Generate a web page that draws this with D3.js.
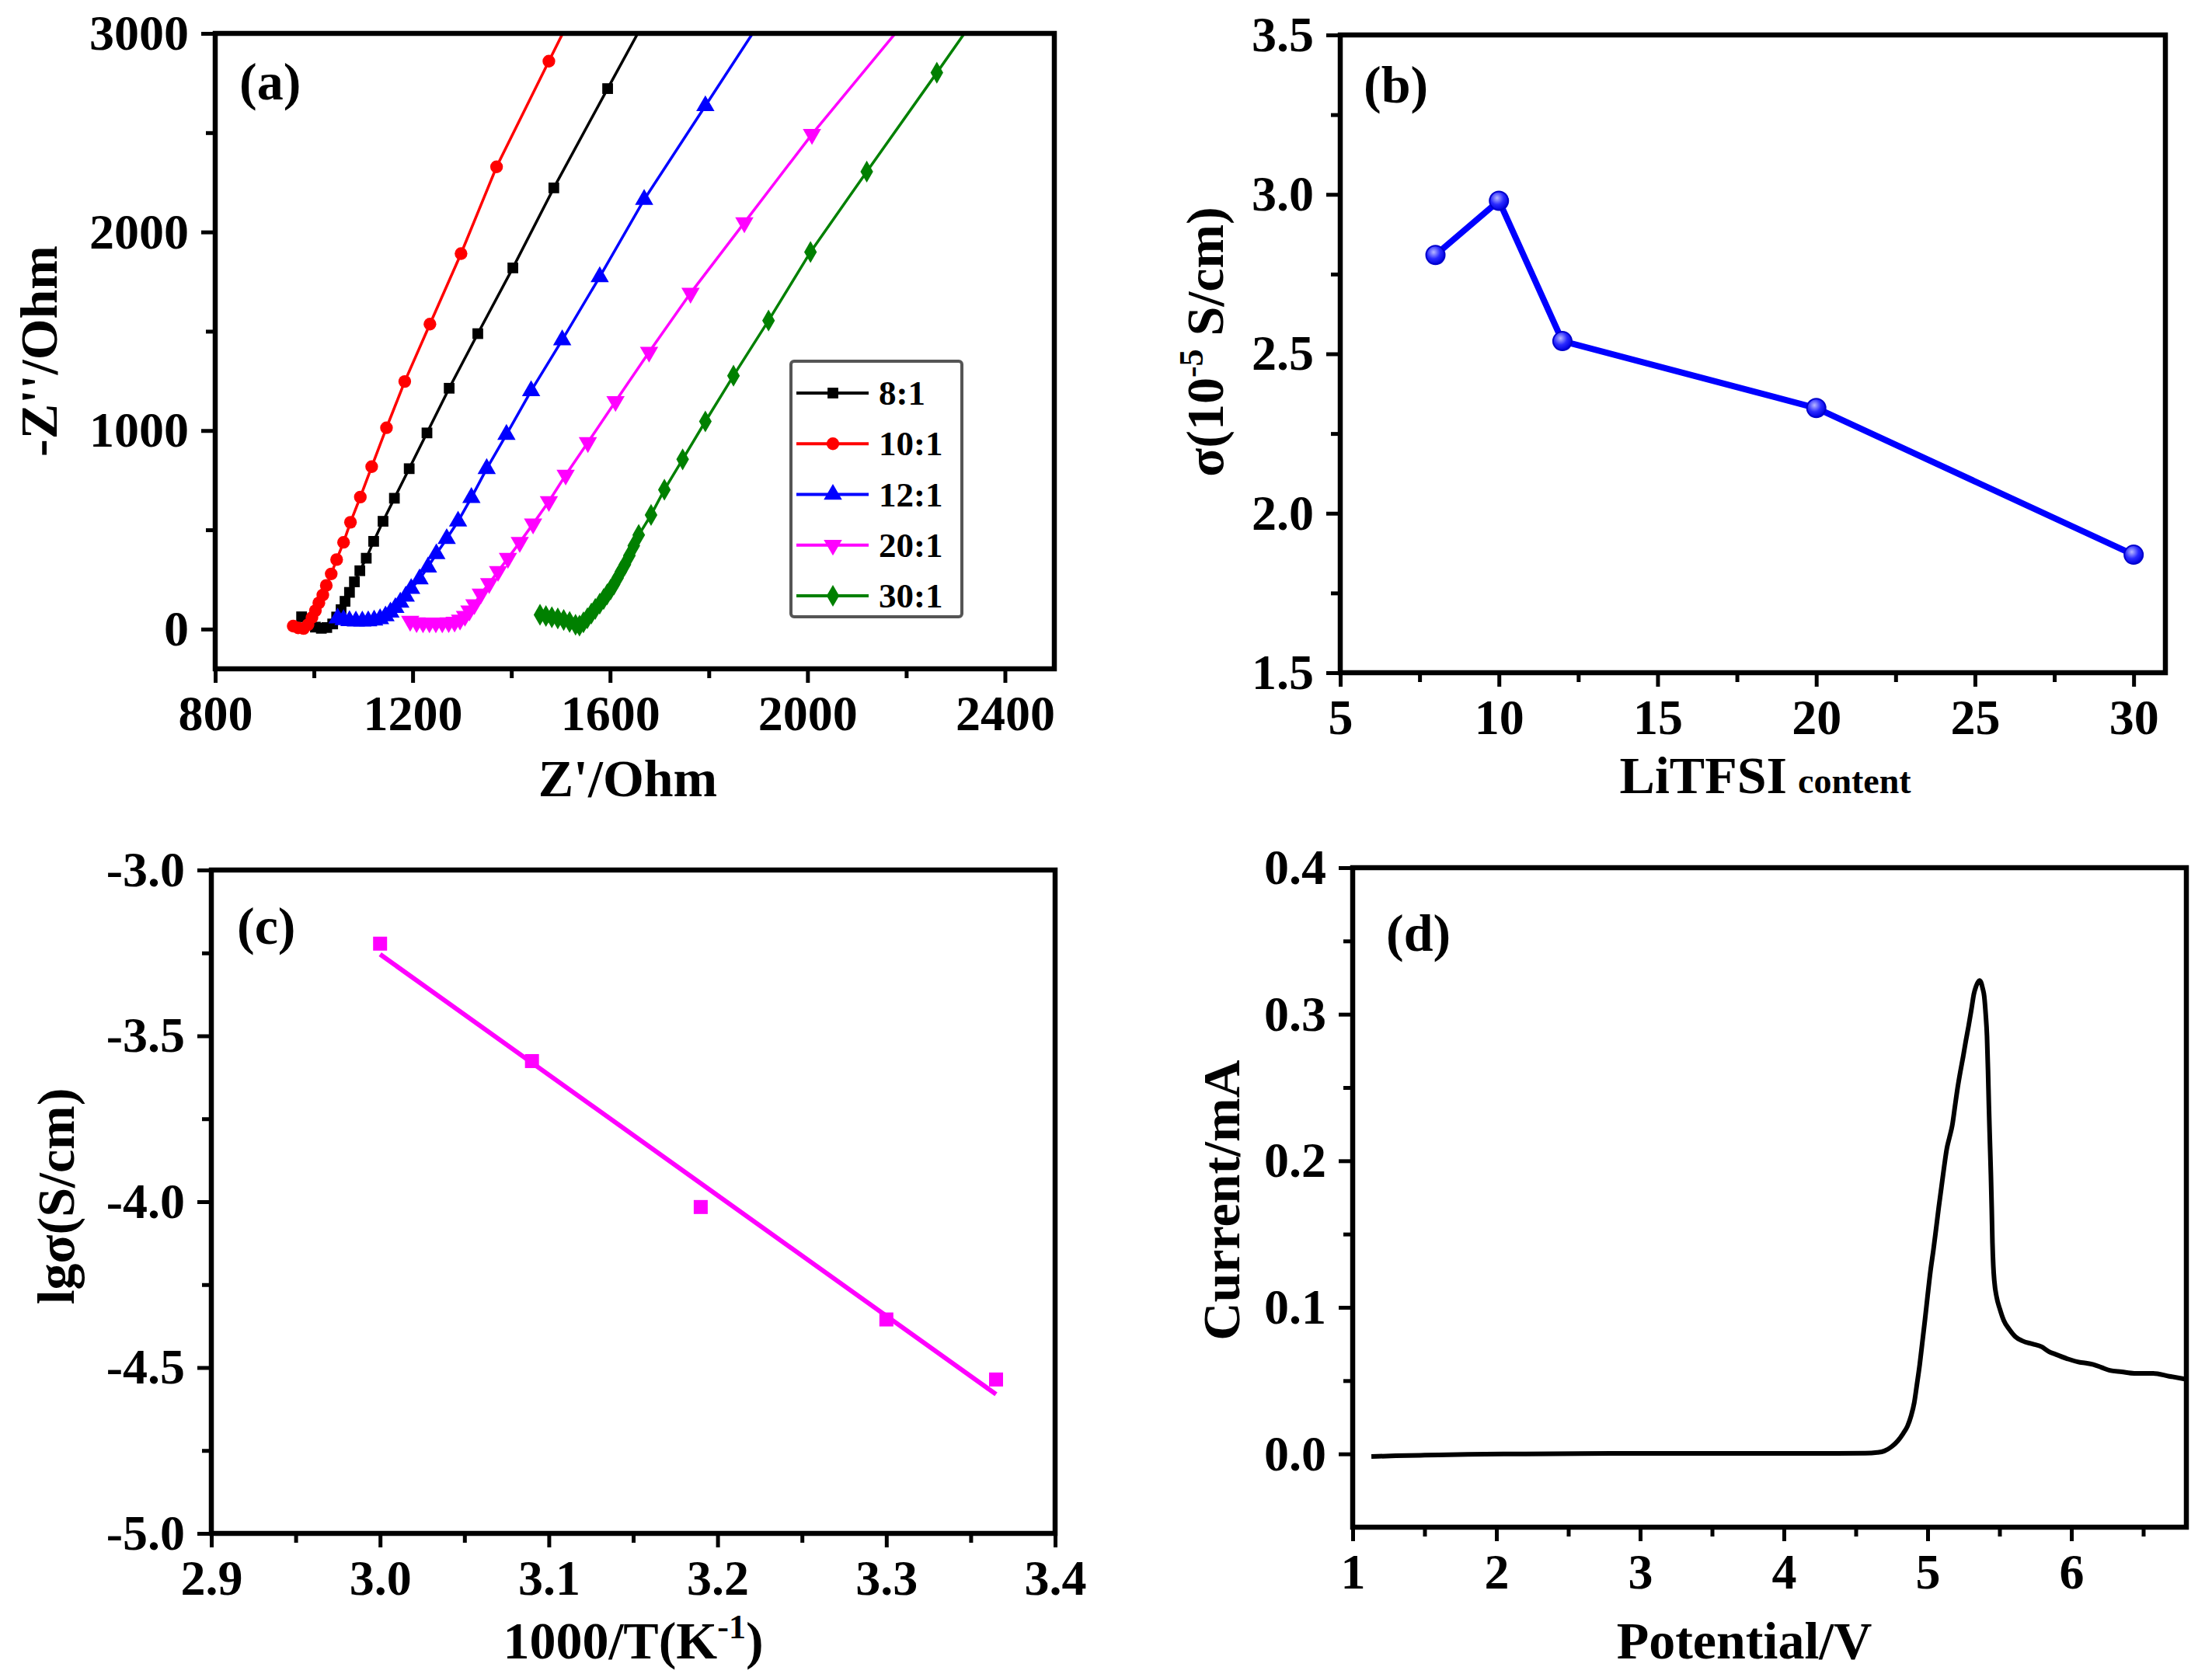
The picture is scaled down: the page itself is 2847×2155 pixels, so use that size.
<!DOCTYPE html>
<html><head><meta charset="utf-8">
<script src="https://cdn.jsdelivr.net/npm/d3@7"></script>
<style>
html,body{margin:0;padding:0;background:#fff;}
svg text{font-family:"Liberation Serif","Times New Roman",serif;font-weight:bold;fill:#000;}
</style></head>
<body><svg id="c" width="2847" height="2155"></svg>
<script>
// ---------- data ----------
// (a) Nyquist plots: [Z', -Z'']
const nyq8  = [[975,62],[990,30],[1003,10],[1015,4],[1026,8],[1038,26],[1046,61],[1055,98],[1063,140],[1072,185],[1082,238],[1093,294],[1106,357],[1121,442],[1140,543],[1163,659],[1193,808],[1229,988],[1274,1213],[1332,1488],[1403,1819],[1486,2222],[1595,2722],[1678,3100]];
const nyq10 = [[958,15],[968,6],[979,3],[988,22],[996,58],[1003,93],[1010,132],[1018,172],[1025,220],[1035,278],[1046,350],[1060,437],[1074,538],[1094,665],[1117,818],[1147,1014],[1184,1247],[1235,1536],[1298,1891],[1370,2328],[1476,2860],[1524,3100]];
const nyq12 = [[1048,55],[1060,47],[1072,42],[1085,40],[1098,40],[1110,41],[1122,45],[1134,52],[1145,66],[1155,85],[1165,108],[1175,135],[1186,165],[1197,204],[1214,252],[1231,312],[1248,379],[1269,455],[1292,543],[1319,662],[1350,808],[1390,980],[1440,1200],[1503,1456],[1579,1774],[1669,2163],[1793,2635],[1915,3100]];
const nyq20 = [[1195,40],[1208,33],[1221,32],[1234,32],[1247,32],[1260,32],[1273,33],[1285,36],[1296,46],[1306,65],[1315,92],[1325,124],[1338,177],[1355,230],[1373,291],[1393,357],[1417,437],[1444,530],[1476,643],[1510,776],[1555,940],[1611,1147],[1679,1395],[1763,1692],[1872,2047],[2009,2492],[2211,3100]];
const nyq30 = [[1458,72],[1470,66],[1482,60],[1494,54],[1506,46],[1518,36],[1530,22],[1538,18],[1546,34],[1554,55],[1562,78],[1570,102],[1579,128],[1587,152],[1594,175],[1601,199],[1608,225],[1615,257],[1622,290],[1630,325],[1639,370],[1648,420],[1658,474],[1683,575],[1710,702],[1747,855],[1793,1046],[1850,1276],[1921,1554],[2006,1899],[2120,2304],[2262,2802],[2346,3100]];
const seriesNames = ["8:1","10:1","12:1","20:1","30:1"];
const seriesColors = ["#000000","#ff0000","#0000ff","#ff00ff","#008000"];
const aXTicks = [800,1200,1600,2000,2400];
const aYTicks = [0,1000,2000,3000];

// (b) conductivity vs LiTFSI content
const bContent = [8,10,12,20,30];
const bSigma = [2.81,2.98,2.54,2.33,1.87];
const bXTicks = [5,10,15,20,25,30];
const bYTicks = [1.5,2.0,2.5,3.0,3.5];

// (c) Arrhenius
const cInvT = [3.0,3.09,3.19,3.30,3.365];
const cLgSigma = [-3.222,-3.576,-4.016,-4.355,-4.536];
const cXTicks = [2.9,3.0,3.1,3.2,3.3,3.4];
const cYTicks = [-5.0,-4.5,-4.0,-3.5,-3.0];

// (d) LSV
const dV = [1.13,1.3,1.5,1.8,2.2,2.8,3.4,4.0,4.3,4.567,4.65,4.699,4.75,4.793,4.83,4.86,4.885,4.907,4.925,4.945,4.963,4.982,5.0,5.02,5.04,5.058,5.077,5.096,5.115,5.133,5.152,5.171,5.19,5.209,5.228,5.247,5.266,5.285,5.304,5.322,5.337,5.351,5.361,5.37,5.382,5.394,5.404,5.413,5.42,5.426,5.433,5.44,5.446,5.451,5.457,5.464,5.48,5.502,5.53,5.568,5.61,5.662,5.73,5.795,5.84,5.889,5.97,6.059,6.1,6.153,6.21,6.267,6.35,6.437,6.5,6.569,6.68,6.796];
const dI = [-0.0018,-0.0013,-0.0009,-0.0003,0.0,0.0003,0.0004,0.0004,0.0004,0.0005,0.001,0.002,0.005,0.009,0.014,0.019,0.026,0.035,0.047,0.061,0.076,0.092,0.108,0.125,0.139,0.153,0.168,0.182,0.196,0.208,0.216,0.224,0.237,0.250,0.261,0.271,0.282,0.292,0.303,0.314,0.319,0.322,0.323,0.322,0.318,0.312,0.3,0.285,0.262,0.238,0.214,0.191,0.167,0.144,0.128,0.118,0.107,0.099,0.091,0.085,0.080,0.077,0.075,0.073,0.070,0.068,0.065,0.0625,0.062,0.061,0.059,0.057,0.056,0.055,0.055,0.055,0.053,0.051];
const dXTicks = [1,2,3,4,5,6];
const dYTicks = [0.0,0.1,0.2,0.3,0.4];

// ---------- drawing ----------
const svg = d3.select("#c");
const TICKFS = 64, TITLEFS = 68, LABFS = 68;

function frame(p){
  const x = d3.scaleLinear().domain(p.xd).range([p.x0,p.x1]);
  const y = d3.scaleLinear().domain(p.yd).range([p.y1,p.y0]);
  const g = svg.append("g");
  const gxm = g.append("g").attr("transform",`translate(0,${p.y1})`)
    .call(d3.axisBottom(x).tickValues(p.xm).tickSize(12).tickFormat(""));
  const gym = g.append("g").attr("transform",`translate(${p.x0},0)`)
    .call(d3.axisLeft(y).tickValues(p.ym).tickSize(12).tickFormat(""));
  gxm.selectAll("text").remove();
  gym.selectAll("text").remove();
  const gx = g.append("g").attr("transform",`translate(0,${p.y1})`)
    .call(d3.axisBottom(x).tickValues(p.xt).tickSize(18).tickPadding(16).tickFormat(p.xf));
  const gy = g.append("g").attr("transform",`translate(${p.x0},0)`)
    .call(d3.axisLeft(y).tickValues(p.yt).tickSize(18).tickPadding(16).tickFormat(p.yf));
  [gxm,gym,gx,gy].forEach(a=>{
    a.select(".domain").remove();
    a.selectAll("line").attr("stroke","#000").attr("stroke-width",5);
    a.selectAll("text").attr("font-size",TICKFS).attr("font-family",null).attr("fill","#000");
  });
  const plot = g.append("g");
  g.append("rect").attr("x",p.x0).attr("y",p.y0).attr("width",p.x1-p.x0).attr("height",p.y1-p.y0)
    .attr("fill","none").attr("stroke","#000").attr("stroke-width",6.5);
  const cid = "clip"+p.id;
  svg.append("clipPath").attr("id",cid).append("rect")
    .attr("x",p.x0).attr("y",p.y0).attr("width",p.x1-p.x0).attr("height",p.y1-p.y0);
  plot.attr("clip-path",`url(#${cid})`);
  g.append("text").attr("x",p.lx).attr("y",p.ly).attr("font-size",LABFS).text(p.label);
  return {x,y,g,plot};
}
const fmt1 = d=>d.toFixed(1);

// ===== (a) =====
{
  const P = frame({id:"a",x0:277,x1:1357,y0:43,y1:861,xd:[800,2500],yd:[-200,3000],
    xt:aXTicks,xm:[1000,1400,1800,2200],yt:aYTicks,ym:[500,1500,2500],
    xf:d3.format("d"),yf:d3.format("d"),label:"(a)",lx:308,ly:128});
  const data = [nyq8,nyq10,nyq12,nyq20,nyq30];
  const syms = [d3.symbolSquare,d3.symbolCircle,d3.symbolTriangle,d3.symbolTriangle,d3.symbolDiamond];
  const sizes = [190,210,240,240,230];
  const rot = [0,0,0,180,0];
  const line = d3.line().x(d=>P.x(d[0])).y(d=>P.y(d[1]));
  data.forEach((s,i)=>{
    P.plot.append("path").datum(s).attr("d",line).attr("fill","none")
      .attr("stroke",seriesColors[i]).attr("stroke-width",3.5);
    P.plot.selectAll(null).data(s).join("path")
      .attr("d",d3.symbol().type(syms[i]).size(sizes[i]))
      .attr("transform",d=>`translate(${P.x(d[0])},${P.y(d[1])}) rotate(${rot[i]})`)
      .attr("fill",seriesColors[i]);
  });
  // legend
  const L = P.g.append("g");
  L.append("rect").attr("x",1018).attr("y",465).attr("width",220).attr("height",329).attr("rx",4)
    .attr("fill","#fff").attr("stroke","#555").attr("stroke-width",4);
  const ly = d3.scalePoint().domain(seriesNames).range([506,767]);
  seriesNames.forEach((n,i)=>{
    const yy = ly(n);
    L.append("line").attr("x1",1025).attr("x2",1118).attr("y1",yy).attr("y2",yy)
      .attr("stroke",seriesColors[i]).attr("stroke-width",4);
    L.append("path").attr("d",d3.symbol().type(syms[i]).size(sizes[i])())
      .attr("transform",`translate(1072,${yy}) rotate(${rot[i]})`).attr("fill",seriesColors[i]);
    L.append("text").attr("x",1131).attr("y",yy+15).attr("font-size",45).text(n);
  });
  P.g.append("text").attr("x",808).attr("y",1025).attr("text-anchor","middle").attr("font-size",TITLEFS).text("Z'/Ohm");
  P.g.append("text").attr("transform","translate(73,452) rotate(-90)").attr("text-anchor","middle")
    .attr("font-size",TITLEFS).text("-Z''/Ohm");
}

// ===== (b) =====
{
  const P = frame({id:"b",x0:1725,x1:2787,y0:45,y1:866,xd:[5,31],yd:[1.5,3.5],
    xt:bXTicks,xm:[7.5,12.5,17.5,22.5,27.5],yt:bYTicks,ym:[1.75,2.25,2.75,3.25],
    xf:d3.format("d"),yf:fmt1,label:"(b)",lx:1755,ly:132});
  const grad = svg.append("defs").append("radialGradient").attr("id","bg").attr("cx","40%").attr("cy","35%").attr("r","65%");
  grad.append("stop").attr("offset","0%").attr("stop-color","#b8b8ff");
  grad.append("stop").attr("offset","55%").attr("stop-color","#2a2aff");
  grad.append("stop").attr("offset","100%").attr("stop-color","#0000e0");
  const pts = bContent.map((c,i)=>[c,bSigma[i]]);
  P.plot.append("path").datum(pts).attr("d",d3.line().x(d=>P.x(d[0])).y(d=>P.y(d[1])))
    .attr("fill","none").attr("stroke","#0000ff").attr("stroke-width",8).attr("stroke-linejoin","round");
  P.plot.selectAll(null).data(pts).join("circle").attr("cx",d=>P.x(d[0])).attr("cy",d=>P.y(d[1]))
    .attr("r",12).attr("fill","url(#bg)").attr("stroke","#0000cc").attr("stroke-width",2);
  P.g.append("text").attr("x",2300).attr("y",1021).attr("text-anchor","end").attr("font-size",TITLEFS).text("LiTFSI");
  P.g.append("text").attr("x",2314).attr("y",1021).attr("text-anchor","start").attr("font-size",46).text("content");
  const ty = P.g.append("text").attr("transform","translate(1574,440) rotate(-90)").attr("text-anchor","middle").attr("font-size",TITLEFS);
  ty.append("tspan").text("σ(10");
  ty.append("tspan").attr("font-size",44).attr("dy",-26).text("-5");
  ty.append("tspan").attr("dy",26).text(" S/cm)");
}

// ===== (c) =====
{
  const P = frame({id:"c",x0:272,x1:1358,y0:1120,y1:1974,xd:[2.9,3.4],yd:[-5.0,-3.0],
    xt:cXTicks,xm:[2.95,3.05,3.15,3.25,3.35],yt:cYTicks,ym:[-4.75,-4.25,-3.75,-3.25],
    xf:fmt1,yf:fmt1,label:"(c)",lx:305,ly:1215});
  const mx = d3.mean(cInvT), my = d3.mean(cLgSigma);
  const slope = d3.sum(cInvT.map((v,i)=>(v-mx)*(cLgSigma[i]-my)))/d3.sum(cInvT.map(v=>(v-mx)*(v-mx)));
  const icpt = my - slope*mx;
  const xr = [cInvT[0], cInvT[cInvT.length-1]];
  P.plot.append("line").attr("x1",P.x(xr[0])).attr("x2",P.x(xr[1]))
    .attr("y1",P.y(icpt+slope*xr[0])).attr("y2",P.y(icpt+slope*xr[1]))
    .attr("stroke","#ff00ff").attr("stroke-width",6);
  P.plot.selectAll(null).data(cInvT).join("rect")
    .attr("x",(d)=>P.x(d)-9).attr("y",(d,i)=>P.y(cLgSigma[i])-9).attr("width",18).attr("height",18)
    .attr("fill","#ff00ff");
  const t = P.g.append("text").attr("x",815).attr("y",2135).attr("text-anchor","middle").attr("font-size",TITLEFS);
  t.append("tspan").text("1000/T(K");
  t.append("tspan").attr("font-size",44).attr("dy",-26).text("-1");
  t.append("tspan").attr("dy",26).text(")");
  P.g.append("text").attr("transform","translate(95,1540) rotate(-90)").attr("text-anchor","middle")
    .attr("font-size",TITLEFS).text("lgσ(S/cm)");
}

// ===== (d) =====
{
  const P = frame({id:"d",x0:1741,x1:2814,y0:1117,y1:1966,xd:[1,6.8],yd:[-0.05,0.4],
    xt:dXTicks,xm:[1.5,2.5,3.5,4.5,5.5,6.5],yt:dYTicks,ym:[0.05,0.15,0.25,0.35],
    xf:d3.format("d"),yf:fmt1,label:"(d)",lx:1784,ly:1224});
  const pts = dV.map((v,i)=>[v,dI[i]]);
  P.plot.append("path").datum(pts).attr("d",d3.line().curve(d3.curveMonotoneX).x(d=>P.x(d[0])).y(d=>P.y(d[1])))
    .attr("fill","none").attr("stroke","#000").attr("stroke-width",6).attr("stroke-linejoin","round");
  P.g.append("text").attr("x",2245).attr("y",2135).attr("text-anchor","middle").attr("font-size",TITLEFS).text("Potential/V");
  P.g.append("text").attr("transform","translate(1595,1545) rotate(-90)").attr("text-anchor","middle")
    .attr("font-size",TITLEFS).text("Current/mA");
}
</script></body></html>
